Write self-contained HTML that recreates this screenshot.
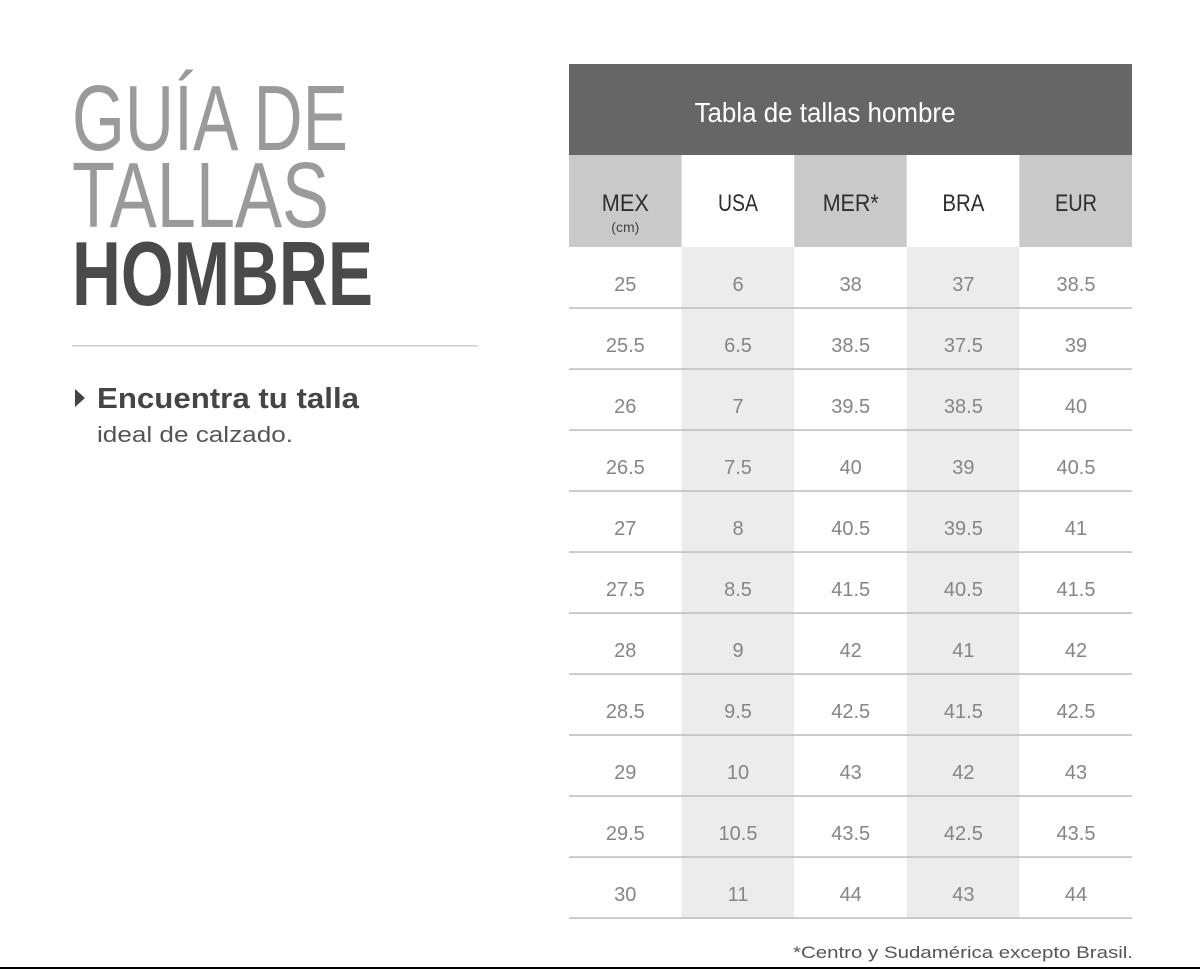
<!DOCTYPE html>
<html>
<head>
<meta charset="utf-8">
<style>
html,body{margin:0;padding:0;background:#fff;}
svg{display:block;}
text{font-family:"Liberation Sans",sans-serif;}
</style>
</head>
<body>
<svg width="1200" height="969" viewBox="0 0 1200 969" xmlns="http://www.w3.org/2000/svg">
<rect x="0" y="0" width="1200" height="969" fill="#fff"/>

<!-- Left title -->
<text x="72" y="150" font-size="93" fill="#9a9a9a" textLength="276" lengthAdjust="spacingAndGlyphs">GUÍA DE</text>
<text x="72" y="227" font-size="93" fill="#9a9a9a" textLength="257" lengthAdjust="spacingAndGlyphs">TALLAS</text>
<text x="72" y="305" font-size="91" font-weight="bold" fill="#4a4a4a" textLength="301" lengthAdjust="spacingAndGlyphs">HOMBRE</text>

<rect x="72" y="345" width="406" height="1.5" fill="#cfcfcf"/>

<polygon points="75,389 85,398 75,407" fill="#444"/>
<text x="97" y="408" font-size="29" font-weight="bold" fill="#454545" textLength="262" lengthAdjust="spacingAndGlyphs">Encuentra tu talla</text>
<text x="97" y="442" font-size="22" fill="#555" textLength="196" lengthAdjust="spacingAndGlyphs">ideal de calzado.</text>

<!-- Table header -->
<rect x="569" y="64" width="563" height="91" fill="#666666"/>
<text x="825" y="122" font-size="28" fill="#fff" text-anchor="middle" textLength="261" lengthAdjust="spacingAndGlyphs">Tabla de tallas hombre</text>

<!-- Column header row -->
<rect x="569" y="155" width="112.6" height="92" fill="#c9c9c9"/>
<rect x="681.6" y="155" width="112.6" height="92" fill="#ffffff"/>
<rect x="794.2" y="155" width="112.6" height="92" fill="#c9c9c9"/>
<rect x="906.8" y="155" width="112.6" height="92" fill="#ffffff"/>
<rect x="1019.4" y="155" width="112.6" height="92" fill="#c9c9c9"/>

<g font-size="24" fill="#2e2e2e" text-anchor="middle">
<text x="625.3" y="211" textLength="47" lengthAdjust="spacingAndGlyphs">MEX</text>
<text x="738" y="211" textLength="40" lengthAdjust="spacingAndGlyphs">USA</text>
<text x="850.7" y="211" textLength="56" lengthAdjust="spacingAndGlyphs">MER*</text>
<text x="963.4" y="211" textLength="42" lengthAdjust="spacingAndGlyphs">BRA</text>
<text x="1076" y="211" textLength="42" lengthAdjust="spacingAndGlyphs">EUR</text>
</g>
<text x="625.3" y="232" font-size="14" fill="#444" text-anchor="middle">(cm)</text>

<!-- Data shaded columns -->
<rect x="681.6" y="247" width="112.6" height="671" fill="#ececec"/>
<rect x="906.8" y="247" width="112.6" height="671" fill="#ececec"/>

<!-- Row lines -->
<g fill="#bcbcbc">
<rect x="569" y="307.3" width="563" height="1.5"/>
<rect x="569" y="368.3" width="563" height="1.5"/>
<rect x="569" y="429.3" width="563" height="1.5"/>
<rect x="569" y="490.3" width="563" height="1.5"/>
<rect x="569" y="551.3" width="563" height="1.5"/>
<rect x="569" y="612.3" width="563" height="1.5"/>
<rect x="569" y="673.3" width="563" height="1.5"/>
<rect x="569" y="734.3" width="563" height="1.5"/>
<rect x="569" y="795.3" width="563" height="1.5"/>
<rect x="569" y="856.3" width="563" height="1.5"/>
<rect x="569" y="917.3" width="563" height="1.5"/>
</g>

<!-- Data values -->
<g font-size="20" fill="#858585" text-anchor="middle">
<text x="625.3" y="291">25</text><text x="738" y="291">6</text><text x="850.7" y="291">38</text><text x="963.4" y="291">37</text><text x="1076" y="291">38.5</text>
<text x="625.3" y="352">25.5</text><text x="738" y="352">6.5</text><text x="850.7" y="352">38.5</text><text x="963.4" y="352">37.5</text><text x="1076" y="352">39</text>
<text x="625.3" y="413">26</text><text x="738" y="413">7</text><text x="850.7" y="413">39.5</text><text x="963.4" y="413">38.5</text><text x="1076" y="413">40</text>
<text x="625.3" y="474">26.5</text><text x="738" y="474">7.5</text><text x="850.7" y="474">40</text><text x="963.4" y="474">39</text><text x="1076" y="474">40.5</text>
<text x="625.3" y="535">27</text><text x="738" y="535">8</text><text x="850.7" y="535">40.5</text><text x="963.4" y="535">39.5</text><text x="1076" y="535">41</text>
<text x="625.3" y="596">27.5</text><text x="738" y="596">8.5</text><text x="850.7" y="596">41.5</text><text x="963.4" y="596">40.5</text><text x="1076" y="596">41.5</text>
<text x="625.3" y="657">28</text><text x="738" y="657">9</text><text x="850.7" y="657">42</text><text x="963.4" y="657">41</text><text x="1076" y="657">42</text>
<text x="625.3" y="718">28.5</text><text x="738" y="718">9.5</text><text x="850.7" y="718">42.5</text><text x="963.4" y="718">41.5</text><text x="1076" y="718">42.5</text>
<text x="625.3" y="779">29</text><text x="738" y="779">10</text><text x="850.7" y="779">43</text><text x="963.4" y="779">42</text><text x="1076" y="779">43</text>
<text x="625.3" y="840">29.5</text><text x="738" y="840">10.5</text><text x="850.7" y="840">43.5</text><text x="963.4" y="840">42.5</text><text x="1076" y="840">43.5</text>
<text x="625.3" y="901">30</text><text x="738" y="901">11</text><text x="850.7" y="901">44</text><text x="963.4" y="901">43</text><text x="1076" y="901">44</text>
</g>

<!-- Footnote -->
<text x="1133" y="958" font-size="17" fill="#555" text-anchor="end" textLength="340" lengthAdjust="spacingAndGlyphs">*Centro y Sudamérica excepto Brasil.</text>

<!-- Bottom black line -->
<rect x="0" y="967" width="1200" height="2" fill="#000"/>
</svg>
</body>
</html>
